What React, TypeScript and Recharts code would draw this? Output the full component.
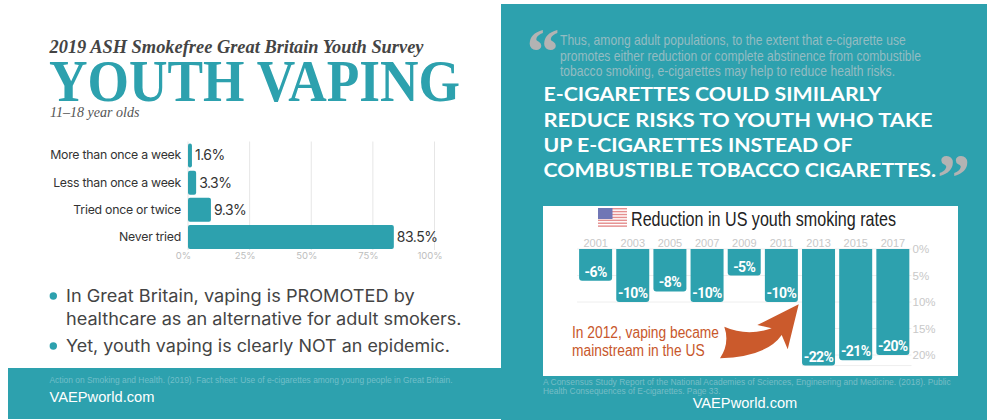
import { BarChart, Bar, XAxis, YAxis, CartesianGrid, LabelList } from 'recharts';

const TEAL = '#2da1ae';
const SERIF = '"Liberation Serif", serif';
const SANS = '"Liberation Sans", sans-serif';
const NARROW = '"Liberation Sans Narrow", "Liberation Sans", sans-serif';
const BODY = 'Inter, sans-serif';

// GB youth survey, share of 11-18 year olds
const vapingCategories = ['More than once a week', 'Less than once a week', 'Tried once or twice', 'Never tried'];
const vapingShares = [1.6, 3.3, 9.3, 83.5];
const shareTicks = [0, 25, 50, 75, 100];

// US youth smoking rate reduction by survey year
const smokingYears = ['2001', '2003', '2005', '2007', '2009', '2011', '2013', '2015', '2017'];
const smokingReductions = [6, 10, 8, 10, 5, 10, 22, 21, 20];
const reductionTicks = [0, 5, 10, 15, 20];

const flagStripes = [0, 1, 2, 3, 4, 5, 6];

const vapingData = vapingCategories.map((name, i) => ({ name, share: vapingShares[i] }));
const smokingData = smokingYears.map((year, i) => ({ year, reduction: smokingReductions[i] }));

type CopyProps = {
  x: number;
  y: number;
  w: number;
  size: number;
  fill: string;
  font: string;
  weight?: number;
  italic?: boolean;
  children: string;
};

// Single line of copy, squeezed or stretched to its column width
function Copy({ x, y, w, size, fill, font, weight = 400, italic = false, children }: CopyProps) {
  return (
    <text
      x={x}
      y={y}
      textLength={w}
      lengthAdjust="spacingAndGlyphs"
      fontSize={size}
      fill={fill}
      fontFamily={font}
      fontWeight={weight}
      fontStyle={italic ? 'italic' : 'normal'}
    >
      {children}
    </text>
  );
}

function VapingChart() {
  return (
    <div style={{ position: 'absolute', left: 0, top: 130 }}>
      <BarChart
        width={500}
        height={140}
        data={vapingData}
        layout="vertical"
        margin={{ top: 11.5, right: 65.5, bottom: 0, left: 0 }}
        barSize={24}
      >
        <CartesianGrid horizontal={false} stroke="#e6e6e6" />
        <XAxis
          type="number"
          domain={[0, 100]}
          ticks={shareTicks}
          height={20}
          axisLine={false}
          tickLine={false}
          tickSize={0}
          tickMargin={2}
          tickFormatter={(v) => `${v}%`}
          tick={{ fill: '#bdbdbd', fontSize: 9.5, fontFamily: BODY, dx: -4.5 }}
        />
        <YAxis
          type="category"
          dataKey="name"
          width={188}
          axisLine={false}
          tickLine={false}
          tickSize={0}
          tickMargin={7}
          interval={0}
          tick={{ fill: '#333', fontSize: 12.3, fontFamily: BODY, letterSpacing: -0.25 }}
        />
        <Bar dataKey="share" fill={TEAL} radius={2} isAnimationActive={false}>
          <LabelList
            dataKey="share"
            position="right"
            offset={3}
            formatter={(v: number) => `${v}%`}
            style={{ fill: '#333', fontSize: 14, fontFamily: BODY, letterSpacing: -0.5 }}
          />
        </Bar>
      </BarChart>
    </div>
  );
}

function SmokingChart() {
  return (
    <div style={{ position: 'absolute', left: 543, top: 206 }}>
      <BarChart
        width={415}
        height={170}
        data={smokingData}
        margin={{ top: 23, right: 0.5, bottom: 10.4, left: 34.1 }}
        barSize={33}
      >
        <CartesianGrid vertical={false} stroke="#eeeeee" />
        <XAxis
          dataKey="year"
          orientation="top"
          height={20}
          axisLine={false}
          tickLine={false}
          tickSize={0}
          tickMargin={2}
          interval={0}
          tick={{ fill: '#c8c8c8', fontSize: 11, fontFamily: SANS }}
        />
        <YAxis
          orientation="right"
          reversed
          domain={[0, 22]}
          ticks={reductionTicks}
          width={46}
          axisLine={false}
          tickLine={false}
          tickSize={0}
          tickMargin={1}
          tickFormatter={(v) => `${v}%`}
          tick={{ fill: '#c8c8c8', fontSize: 11.5, fontFamily: SANS }}
        />
        {/* The axis is reversed, so the bar's far end is its visual bottom */}
        <Bar dataKey="reduction" fill={TEAL} radius={[3, 3, 0, 0]} isAnimationActive={false}>
          <LabelList
            dataKey="reduction"
            position="insideTop"
            offset={4}
            formatter={(v: number) => `-${v}%`}
            style={{ fill: '#fff', fontSize: 14, fontWeight: 700, fontFamily: 'Roboto, sans-serif', letterSpacing: -0.6 }}
          />
        </Bar>
      </BarChart>
    </div>
  );
}

export default function App() {
  return (
    <div style={{ position: 'absolute', left: 0, top: 0, width: 987, height: 420, background: '#fff', overflow: 'hidden' }}>
      {/* Panels */}
      <div style={{ position: 'absolute', left: 8, top: 368, width: 493, height: 51, background: TEAL }} />
      <div style={{ position: 'absolute', left: 501, top: 4, width: 486, height: 416, background: TEAL }} />
      <div style={{ position: 'absolute', left: 543, top: 206, width: 415, height: 170, background: '#fff' }} />

      <VapingChart />
      <SmokingChart />

      <svg width={987} height={420} style={{ position: 'absolute', left: 0, top: 0 }}>
        {/* Left panel copy */}
        <Copy x={49.5} y={52.7} w={374} size={19} fill="#444" font={SERIF} weight={700} italic>
          2019 ASH Smokefree Great Britain Youth Survey
        </Copy>
        <Copy x={49} y={101} w={411} size={59} fill={TEAL} font={SERIF} weight={700}>
          YOUTH VAPING
        </Copy>
        <Copy x={50} y={116.7} w={89.5} size={15} fill="#555" font={SERIF} italic>
          11–18 year olds
        </Copy>

        <circle cx={53.3} cy={296} r={3.7} fill={TEAL} />
        <circle cx={53.3} cy={346} r={3.7} fill={TEAL} />
        <Copy x={66} y={302} w={348.7} size={17} fill="#444" font={BODY}>
          In Great Britain, vaping is PROMOTED by
        </Copy>
        <Copy x={66} y={325} w={395.5} size={17} fill="#444" font={BODY}>
          healthcare as an alternative for adult smokers.
        </Copy>
        <Copy x={66} y={352} w={384} size={17} fill="#444" font={BODY}>
          Yet, youth vaping is clearly NOT an epidemic.
        </Copy>

        <Copy x={49.5} y={382.7} w={403} size={9} fill="#71bfc9" font={SANS}>
          Action on Smoking and Health. (2019). Fact sheet: Use of e-cigarettes among young people in Great Britain.
        </Copy>
        <Copy x={49.5} y={401.7} w={105} size={15.5} fill="#fff" font={SANS}>
          VAEPworld.com
        </Copy>

        {/* Right panel quote */}
        <text x={526.4} y={73.7} fontSize={66} fontWeight={700} fontFamily={SERIF} fill="#b3b3b3">
          “
        </text>
        <Copy x={560} y={44.7} w={345.7} size={14.5} fill="#94bcc2" font={NARROW}>
          Thus, among adult populations, to the extent that e-cigarette use
        </Copy>
        <Copy x={560} y={60.7} w={361} size={14.5} fill="#94bcc2" font={NARROW}>
          promotes either reduction or complete abstinence from combustible
        </Copy>
        <Copy x={560} y={76.3} w={335} size={14.5} fill="#94bcc2" font={NARROW}>
          tobacco smoking, e-cigarettes may help to reduce health risks.
        </Copy>

        <Copy x={543.5} y={101.3} w={338} size={19.5} fill="#fff" font="Lato, sans-serif" weight={700}>
          E-CIGARETTES COULD SIMILARLY
        </Copy>
        <Copy x={543.5} y={126.7} w={389} size={19.5} fill="#fff" font="Lato, sans-serif" weight={700}>
          REDUCE RISKS TO YOUTH WHO TAKE
        </Copy>
        <Copy x={543.5} y={152} w={309} size={19.5} fill="#fff" font="Lato, sans-serif" weight={700}>
          UP E-CIGARETTES INSTEAD OF
        </Copy>
        <Copy x={543.5} y={177.3} w={392.5} size={19.5} fill="#fff" font="Lato, sans-serif" weight={700}>
          COMBUSTIBLE TOBACCO CIGARETTES.
        </Copy>
        <text x={937.3} y={198.7} fontSize={66} fontWeight={700} fontFamily={SERIF} fill="#b3b3b3">
          ”
        </text>

        {/* Chart heading with flag */}
        <rect x={598} y={208} width={29} height={20} fill="#fff" />
        {flagStripes.map((s) => (
          <rect key={s} x={598} y={208 + s * 2.9} width={29} height={1.45} fill="#e58f8f" />
        ))}
        <rect x={598} y={208} width={14.5} height={11} fill="#7076b5" />
        <Copy x={631} y={226} w={265} size={21} fill="#222" font={NARROW}>
          Reduction in US youth smoking rates
        </Copy>

        {/* 2012 callout */}
        <rect x={563} y={304} width={239} height={68} fill="#fff" />
        <path
          d="M 724.3 326.7 Q 746.7 336.7 771.7 328.3 L 757.3 325 L 798.7 304.3 L 787.7 349.3 L 781.7 335 Q 766.7 356.7 720 358.3 Q 730 343 724.3 326.7 Z"
          fill="#cb5a2c"
        />
        <Copy x={572} y={337.7} w={147} size={16} fill="#c8572b" font={NARROW}>
          In 2012, vaping became
        </Copy>
        <Copy x={572} y={355.7} w={132.7} size={16} fill="#c8572b" font={NARROW}>
          mainstream in the US
        </Copy>

        {/* Right panel footer */}
        <Copy x={543} y={385} w={407.7} size={9} fill="#77bdc6" font={SANS}>
          A Consensus Study Report of the National Academies of Sciences, Engineering and Medicine. (2018). Public
        </Copy>
        <Copy x={543} y={393.7} w={177.5} size={9} fill="#77bdc6" font={SANS}>
          Health Consequences of E-cigarettes. Page 33.
        </Copy>
        <Copy x={692.7} y={408.3} w={104.6} size={15.5} fill="#fff" font={SANS}>
          VAEPworld.com
        </Copy>
      </svg>
    </div>
  );
}
